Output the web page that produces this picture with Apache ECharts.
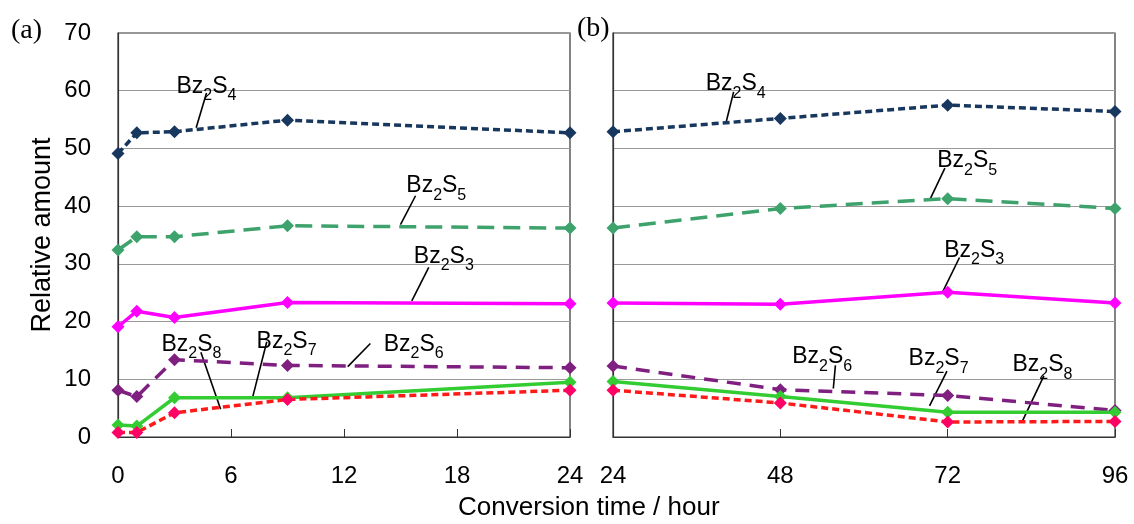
<!DOCTYPE html>
<html>
<head>
<meta charset="utf-8">
<script src="https://cdn.jsdelivr.net/npm/echarts@6/dist/echarts.min.js"></script>
<style>
  html, body { margin: 0; padding: 0; background: #fff; }
  #chart { width: 1134px; height: 524px; }
</style>
</head>
<body>
<div id="chart"></div>
<script>
// time points (hours)
var hoursA = [0, 1, 3, 9, 24];
var hoursB = [24, 48, 72, 96];

// relative amounts, panel (a)
var s4A = [49.1, 52.7, 52.9, 54.9, 52.7];
var s5A = [32.4, 34.7, 34.7, 36.6, 36.2];
var s3A = [19.1, 21.8, 20.7, 23.3, 23.1];
var s6A = [8.1, 7.0, 13.4, 12.4, 12.0];
var s7A = [2.1, 1.9, 6.8, 6.8, 9.5];
var s8A = [0.8, 0.8, 4.2, 6.5, 8.1];

// relative amounts, panel (b)
var s4B = [52.9, 55.2, 57.5, 56.4];
var s5B = [36.2, 39.6, 41.3, 39.6];
var s3B = [23.2, 23.0, 25.1, 23.2];
var s6B = [12.3, 8.2, 7.2, 4.6];
var s7B = [9.6, 7.0, 4.3, 4.3];
var s8B = [8.1, 5.9, 2.6, 2.7];

var ticksA = { min: 0, max: 24, interval: 6 };
var ticksB = { min: 24, max: 96, interval: 24 };
var ticksY = { min: 0, max: 70, interval: 10 };

// label anchors + leader lines [labelX, labelY, fromX, fromY, toX, toY]
var notesA = {
    4: [4.7, 61.2, 4.7, 59.6, 4.15, 53.6],
    5: [16.9, 43.9, 15.8, 41.8, 15.0, 36.8],
    3: [17.3, 31.7, 16.5, 29.4, 15.6, 23.6],
    6: [15.7, 16.5, 13.4, 16.2, 12.2, 12.2],
    7: [8.95, 17.0, 7.9, 16.5, 7.15, 6.9],
    8: [3.9, 16.5, 4.4, 14.7, 5.45, 4.8]
};
var notesB = {
    4: [41.6, 61.6, 41.3, 59.8, 40.2, 54.4],
    5: [74.8, 48.3, 71.6, 46.6, 69.4, 41.0],
    3: [75.8, 32.8, 73.7, 31.1, 71.3, 25.2],
    6: [54.0, 14.3, 55.9, 12.4, 55.6, 8.4],
    7: [70.7, 14.0, 71.9, 11.4, 69.4, 5.4],
    8: [85.6, 12.9, 85.8, 10.6, 82.7, 2.7]
};

var styles = {
    4: { line: '#17375E', mark: '#17375E', type: [7, 4] },
    5: { line: '#3DA26B', mark: '#3DA26B', type: [17, 9] },
    3: { line: '#FF00FF', mark: '#FF00FF', type: 'solid' },
    6: { line: '#7F1F7F', mark: '#7F1F7F', type: [14, 9] },
    7: { line: '#33CC33', mark: '#33CC33', type: 'solid' },
    8: { line: '#FF1A1A', mark: '#FF0066', type: [7, 4] }
};

var font = 'Liberation Sans, Arial, sans-serif';

function pairs(xs, ys) {
    return xs.map(function(x, i) { return [x, ys[i]]; });
}

function makeSeries(n, xs, ys, idx, note) {
    var st = styles[n];
    return {
        type: 'line',
        xAxisIndex: idx,
        yAxisIndex: idx,
        data: pairs(xs, ys),
        symbol: 'diamond',
        symbolSize: 13,
        showSymbol: true,
        lineStyle: { color: st.line, width: 3.5, type: st.type },
        itemStyle: { color: st.mark },
        z: 5,
        markPoint: {
            silent: true,
            symbol: 'circle',
            symbolSize: 0,
            data: [{ coord: [note[0], note[1]] }],
            label: {
                show: true,
                position: 'inside',
                formatter: '{b|Bz}{s|2}{b|S}{s|' + n + '}',
                rich: {
                    b: { fontSize: 23, color: '#000', fontFamily: font, lineHeight: 28, verticalAlign: 'bottom' },
                    s: { fontSize: 16, color: '#000', fontFamily: font, lineHeight: 16, verticalAlign: 'bottom', padding: [0, 0, -6, 0] }
                }
            }
        },
        markLine: {
            silent: true,
            symbol: 'none',
            label: { show: false },
            lineStyle: { color: '#000', width: 1.6, type: 'solid' },
            data: [[{ coord: [note[2], note[3]] }, { coord: [note[4], note[5]] }]]
        }
    };
}

function xAxis(idx, t) {
    return {
        type: 'value',
        gridIndex: idx,
        min: t.min, max: t.max, interval: t.interval,
        axisLine: { show: true, lineStyle: { color: '#333', width: 1.2 } },
        axisTick: { show: true, inside: true, length: 8, lineStyle: { color: '#333' } },
        axisLabel: { color: '#000', fontSize: 24, fontFamily: font, margin: 27,
            showMinLabel: true, showMaxLabel: true },
        splitLine: { show: false }
    };
}

function yAxis(idx, labels) {
    return {
        type: 'value',
        gridIndex: idx,
        min: ticksY.min, max: ticksY.max, interval: ticksY.interval,
        name: labels ? 'Relative amount' : '',
        nameLocation: 'middle',
        nameGap: 62,
        nameTextStyle: { color: '#000', fontSize: 27, fontFamily: font },
        axisLine: { show: true, lineStyle: { color: '#333', width: 1.2 } },
        axisTick: { show: false },
        axisLabel: { show: labels, color: '#000', fontSize: 24, fontFamily: font, margin: 27 },
        splitLine: { show: true, lineStyle: { color: '#999', width: 1 } }
    };
}

var chart = echarts.init(document.getElementById('chart'));

var series = [];
[4, 5, 3, 6, 7, 8].forEach(function(n) {
    var ya = { 4: s4A, 5: s5A, 3: s3A, 6: s6A, 7: s7A, 8: s8A }[n];
    var yb = { 4: s4B, 5: s5B, 3: s3B, 6: s6B, 7: s7B, 8: s8B }[n];
    series.push(makeSeries(n, hoursA, ya, 0, notesA[n]));
    series.push(makeSeries(n, hoursB, yb, 1, notesB[n]));
});

var option = {
    animation: false,
    backgroundColor: '#fff',
    grid: [
        { left: 118, right: 564, top: 33, bottom: 87, show: true, borderColor: '#333', borderWidth: 1.2 },
        { left: 613, right: 19, top: 33, bottom: 87, show: true, borderColor: '#333', borderWidth: 1.2 }
    ],
    xAxis: [xAxis(0, ticksA), xAxis(1, ticksB)],
    yAxis: [yAxis(0, true), yAxis(1, false)],
    graphic: [
        { type: 'text', left: 11, top: 17, style: { text: '(a)', fontSize: 28, fontFamily: 'Liberation Serif, serif', fill: '#000' } },
        { type: 'text', left: 577, top: 15, style: { text: '(b)', fontSize: 28, fontFamily: 'Liberation Serif, serif', fill: '#000' } },
        { type: 'text', left: 458, top: 495, style: { text: 'Conversion time / hour', fontSize: 26, fontFamily: font, fill: '#000' } }
    ],
    series: series
};

chart.setOption(option);
</script>
</body>
</html>
